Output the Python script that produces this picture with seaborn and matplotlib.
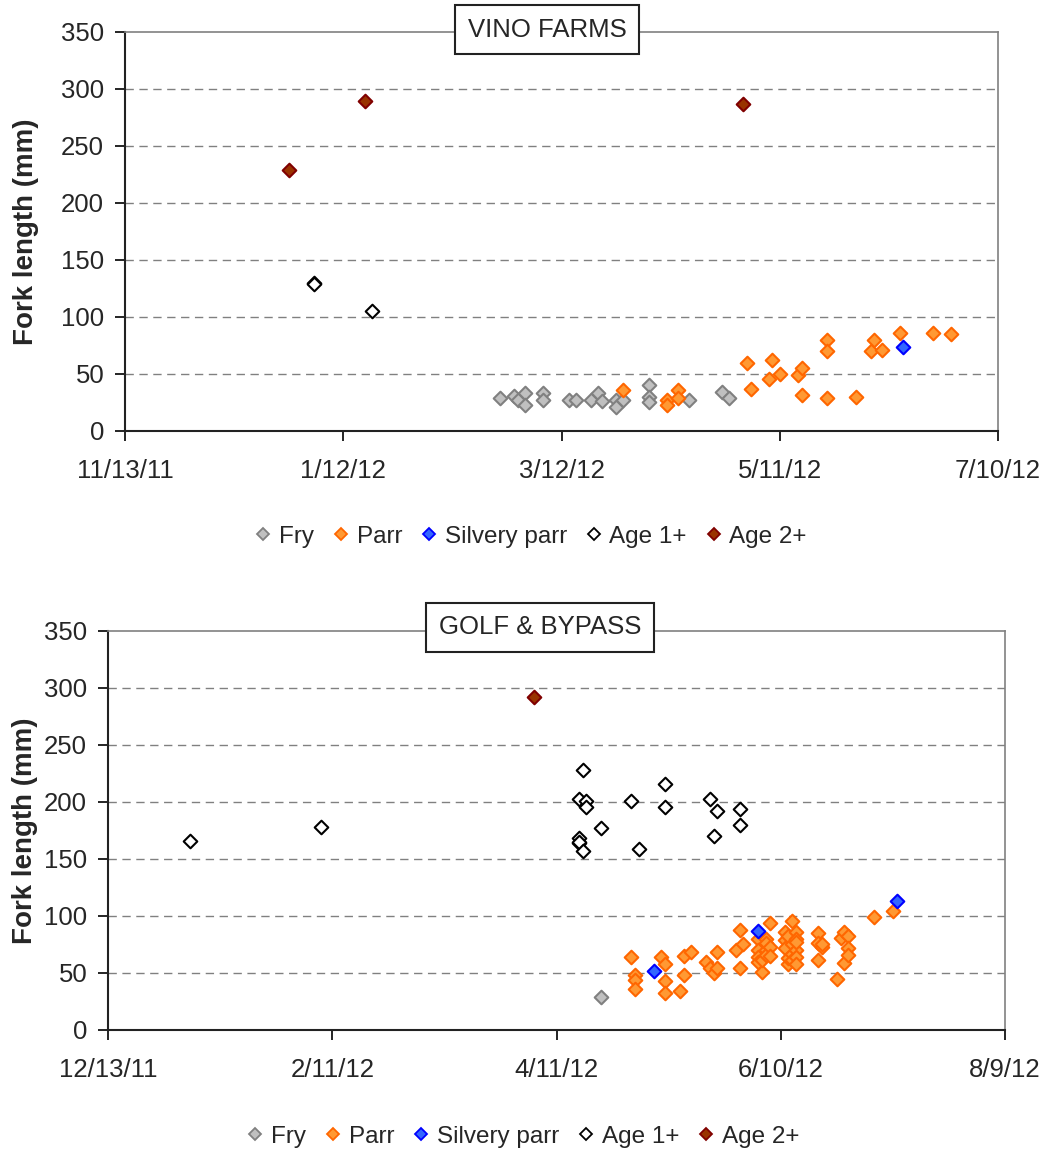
import pandas as pd
import matplotlib
matplotlib.use('Agg')
import matplotlib.pyplot as plt
import matplotlib.dates as mdates
from matplotlib.lines import Line2D
from matplotlib.ticker import FuncFormatter
import seaborn as sns

# ---- VINO FARMS ----
vino_fry_dates = ['2/24/12', '2/28/12', '2/29/12', '3/2/12', '3/2/12', '3/7/12', '3/7/12',
                  '3/14/12', '3/16/12', '3/20/12', '3/22/12', '3/23/12', '3/27/12', '3/27/12',
                  '3/29/12', '4/5/12', '4/5/12', '4/5/12', '4/16/12', '4/25/12', '4/27/12']
vino_fry_len = [29, 31, 27, 33, 23, 33, 27, 27, 27, 27, 33, 26, 27, 21, 27, 40, 30, 25, 27, 34, 29]

vino_parr_dates = ['3/29/12', '4/10/12', '4/10/12', '4/13/12', '4/13/12', '5/2/12', '5/3/12',
                   '5/8/12', '5/9/12', '5/11/12', '5/16/12', '5/17/12', '5/17/12', '5/24/12',
                   '5/24/12', '5/24/12', '6/1/12', '6/5/12', '6/6/12', '6/8/12', '6/13/12',
                   '6/22/12', '6/27/12']
vino_parr_len = [36, 27, 23, 36, 29, 60, 37, 46, 62, 50, 49, 55, 32, 80, 70, 29, 30, 70, 80,
                 71, 86, 86, 85]

vino_silvery_dates = ['6/14/12']
vino_silvery_len = [74]

vino_age1_dates = ['1/4/12', '1/4/12', '1/20/12']
vino_age1_len = [130, 129, 105]

vino_age2_dates = ['12/28/11', '1/18/12', '5/1/12']
vino_age2_len = [229, 289, 287]

# ---- GOLF & BYPASS ----
golf_fry_dates = ['4/23/12']
golf_fry_len = [29]

golf_parr_dates = ['5/1/12', '5/2/12', '5/2/12', '5/2/12', '5/9/12', '5/10/12', '5/10/12',
                   '5/10/12', '5/14/12', '5/15/12', '5/15/12', '5/17/12', '5/21/12', '5/22/12',
                   '5/23/12', '5/24/12', '5/24/12', '5/29/12', '5/30/12', '5/30/12', '5/31/12',
                   '6/4/12', '6/4/12', '6/4/12', '6/4/12', '6/5/12', '6/5/12', '6/6/12',
                   '6/6/12', '6/6/12', '6/6/12', '6/7/12', '6/7/12', '6/7/12',
                   '6/11/12', '6/11/12', '6/11/12', '6/12/12', '6/12/12', '6/12/12',
                   '6/13/12', '6/13/12', '6/13/12', '6/13/12', '6/14/12', '6/14/12',
                   '6/14/12', '6/14/12', '6/14/12', '6/14/12', '6/20/12', '6/20/12',
                   '6/20/12', '6/21/12', '6/21/12', '6/25/12', '6/26/12', '6/27/12',
                   '6/27/12', '6/28/12', '6/28/12', '6/28/12', '7/5/12', '7/10/12']
golf_parr_len = [64, 48, 44, 36, 64, 58, 43, 32, 34, 65, 48, 68, 60, 54, 50, 68, 54, 70, 88,
                 54, 75, 80, 70, 64, 60, 51, 61, 80, 70, 76, 66, 94, 73, 65,
                 86, 79, 72, 58, 82, 63, 75, 67, 96, 61, 86, 80, 70, 64, 58, 77,
                 85, 76, 61, 73, 75, 45, 81, 86, 59, 82, 72, 66, 99, 104]

golf_silvery_dates = ['5/7/12', '6/4/12', '7/11/12']
golf_silvery_len = [52, 87, 113]

golf_age1_dates = ['1/4/12', '2/8/12', '4/17/12', '4/17/12', '4/17/12', '4/17/12', '4/18/12',
                   '4/18/12', '4/19/12', '4/19/12', '4/23/12', '5/1/12', '5/3/12', '5/10/12',
                   '5/10/12', '5/22/12', '5/23/12', '5/24/12', '5/30/12', '5/30/12']
golf_age1_len = [166, 178, 203, 168, 164, 165, 228, 157, 201, 196, 177, 201, 159, 216, 196,
                 203, 170, 192, 194, 180]

golf_age2_dates = ['4/5/12']
golf_age2_len = [292]

stages = ['Fry', 'Parr', 'Silvery parr', 'Age 1+', 'Age 2+']
face_colors = ['#c0c0c0', '#ff9933', '#3366ff', '#ffffff', '#993300']
edge_colors = ['#808080', '#ff6600', '#0000ff', '#000000', '#800000']

vino = [(vino_fry_dates, vino_fry_len), (vino_parr_dates, vino_parr_len),
        (vino_silvery_dates, vino_silvery_len), (vino_age1_dates, vino_age1_len),
        (vino_age2_dates, vino_age2_len)]
golf = [(golf_fry_dates, golf_fry_len), (golf_parr_dates, golf_parr_len),
        (golf_silvery_dates, golf_silvery_len), (golf_age1_dates, golf_age1_len),
        (golf_age2_dates, golf_age2_len)]


def to_df(groups):
    parts = []
    for st, (d, l) in zip(stages, groups):
        parts.append(pd.DataFrame({'date': pd.to_datetime(d, format='%m/%d/%y'),
                                   'length': l, 'stage': st}))
    return pd.concat(parts, ignore_index=True)


sns.set_style('white')
plt.rcParams['font.family'] = ['Liberation Sans', 'DejaVu Sans']

fig = plt.figure(figsize=(10.47, 11.53), dpi=100)


def date_fmt(x, pos):
    d = mdates.num2date(x)
    return f'{d.month}/{d.day}/{d.year % 100:02d}'


def draw(rect, df, start, title, title_xy, ylab_x, legend_xy):
    ax = fig.add_axes(rect)
    for i, st in enumerate(stages):
        sub = df[df['stage'] == st]
        sns.scatterplot(data=sub, x='date', y='length', ax=ax, marker='D', s=48,
                        color=face_colors[i], edgecolor=edge_colors[i], linewidth=1.5,
                        zorder=3 + i, legend=False)
    ticks = pd.date_range(start, periods=5, freq='60D')
    ax.set_xlim(ticks[0], ticks[-1])
    ax.set_xticks(ticks)
    ax.xaxis.set_major_formatter(FuncFormatter(date_fmt))
    ax.set_ylim(0, 350)
    ax.set_yticks(range(0, 351, 50))
    for y in range(50, 301, 50):
        ax.axhline(y, color='#808080', lw=1, ls=(0, (6, 4)), zorder=1)
    ax.tick_params(axis='both', labelsize=18.5, direction='out', length=7, width=1.2,
                   color='black', bottom=True, left=True)
    ax.tick_params(axis='x', pad=13)
    ax.tick_params(axis='y', pad=8)
    ax.set_xlabel('')
    ax.set_ylabel('Fork length (mm)', fontsize=20, fontweight='bold')
    ax.yaxis.set_label_coords(ylab_x, 0.5)
    for side in ['top', 'right']:
        ax.spines[side].set_color('#808080')
        ax.spines[side].set_linewidth(1.2)
    for side in ['left', 'bottom']:
        ax.spines[side].set_color('#222222')
        ax.spines[side].set_linewidth(1.5)
    fig.text(title_xy[0], title_xy[1], title, fontsize=18.5, ha='center', va='center',
             bbox=dict(boxstyle='square,pad=0.5', fc='white', ec='#222222', lw=1.5))
    handles = [Line2D([], [], marker='D', ls='', markersize=6.5, markerfacecolor=fc,
                      markeredgecolor=ec, markeredgewidth=1.3)
               for fc, ec in zip(face_colors, edge_colors)]
    fig.legend(handles, stages, loc='center', bbox_to_anchor=legend_xy, ncol=5,
               frameon=False, fontsize=17.5, handlelength=0.7, handletextpad=0.3,
               columnspacing=0.75)
    return ax


draw([0.1194, 0.6262, 0.8338, 0.3461], to_df(vino), '2011-11-13', 'VINO FARMS',
     (0.5224, 0.9744), -0.099, (0.507, 0.5343))
draw([0.1032, 0.1067, 0.8567, 0.3461], to_df(golf), '2011-12-13', 'GOLF & BYPASS',
     (0.5162, 0.4558), -0.078, (0.4995, 0.0139))

fig.savefig('out.png', dpi=100)
